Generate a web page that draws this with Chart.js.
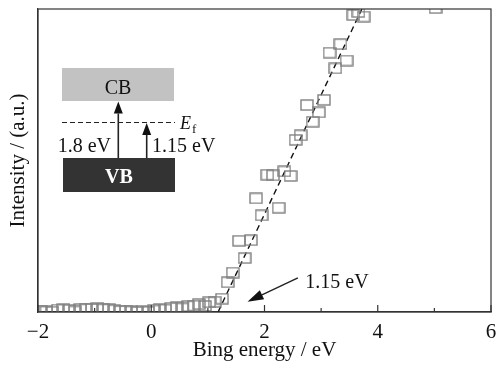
<!DOCTYPE html>
<html>
<head>
<meta charset="utf-8">
<script src="https://cdn.jsdelivr.net/npm/chart.js@4.4.0/dist/chart.umd.min.js"></script>
<style>
  html, body { margin: 0; padding: 0; background: #fff; }
  #wrap { width: 498px; height: 369px; position: relative; }
</style>
</head>
<body>
<div id="wrap"><canvas id="c"></canvas></div>
<script>
// ---- data ----
const energyX = [
  -1.95, -1.85, -1.75, -1.65, -1.55, -1.45, -1.35, -1.25, -1.15, -1.05,
  -0.95, -0.85, -0.75, -0.65, -0.55, -0.45, -0.35, -0.25, -0.15, -0.05,
  0.05, 0.15, 0.25, 0.35, 0.45, 0.55, 0.65, 0.76, 0.84, 0.95,
  1.02, 1.12, 1.25, 1.35, 1.44, 1.55, 1.65, 1.76, 1.85, 1.95,
  2.05, 2.15, 2.25, 2.35, 2.46, 2.55, 2.64, 2.75, 2.85, 2.96,
  3.05, 3.15, 3.25, 3.34, 3.45, 3.57, 3.66, 3.75, 5.02
];
const intensity = [
  0.3, 0.2, 0.1, 0.8, 1.0, 0.7, 0.2, 0.9, 1.1, 1.0,
  1.2, 0.9, 1.0, 0.6, 0.3, 0.4, 0.2, 0.0, 0.3, 0.1,
  0.5, 1.0, 0.8, 1.3, 1.6, 1.2, 1.9, 2.1, 2.6, 2.0,
  3.2, 3.4, 4.4, 9.8, 13.0, 23.5, 17.8, 23.7, 37.5, 31.9,
  45.3, 45.1, 34.4, 46.4, 44.9, 56.8, 58.3, 68.3, 62.8, 65.9,
  70.0, 85.6, 80.4, 88.4, 83.0, 98.0, 99.0, 97.5, 100.3
];
const fitX = [1.18, 3.72];
const fitY = [0, 100];
const xTickLabels = { '-2': '\u22122', '0': '0', '2': '2', '4': '4', '6': '6' };
const onsetLabel = '1.15 eV';

const FONT = '"Liberation Serif", "DejaVu Serif", serif';

// open rectangle marker
function boxMarker() {
  const cv = document.createElement('canvas');
  cv.width = 14; cv.height = 12;
  const g = cv.getContext('2d');
  g.strokeStyle = '#808080';
  g.lineWidth = 1.4;
  g.strokeRect(1, 1, 12, 10);
  return cv;
}

// frame + inward ticks
const frame = {
  id: 'frame',
  afterDraw(chart) {
    const { ctx, chartArea: a, scales } = chart;
    ctx.save();
    ctx.strokeStyle = '#333';
    ctx.lineWidth = 1.2;
    ctx.strokeRect(a.left, a.top, a.right - a.left, a.bottom - a.top);
    scales.x.ticks.forEach(t => {
      const px = scales.x.getPixelForValue(t.value);
      const len = t.value % 2 === 0 ? 7 : 4;
      ctx.beginPath();
      ctx.moveTo(px, a.bottom);
      ctx.lineTo(px, a.bottom - len);
      ctx.stroke();
    });
    ctx.restore();
  }
};

function arrow(ctx, x1, y1, x2, y2, headLen, headW) {
  const ang = Math.atan2(y2 - y1, x2 - x1);
  const bx = x2 - headLen * Math.cos(ang), by = y2 - headLen * Math.sin(ang);
  ctx.beginPath();
  ctx.moveTo(x1, y1);
  ctx.lineTo(bx, by);
  ctx.stroke();
  ctx.beginPath();
  ctx.moveTo(x2, y2);
  ctx.lineTo(bx + headW / 2 * Math.sin(ang), by - headW / 2 * Math.cos(ang));
  ctx.lineTo(bx - headW / 2 * Math.sin(ang), by + headW / 2 * Math.cos(ang));
  ctx.closePath();
  ctx.fill();
}

// band diagram inset and onset arrow
const inset = {
  id: 'inset',
  afterDraw(chart) {
    const { ctx, scales } = chart;
    ctx.save();
    // CB / VB boxes
    ctx.fillStyle = '#c2c2c2';
    ctx.fillRect(62, 68, 112, 33);
    ctx.fillStyle = '#333';
    ctx.fillRect(63, 158, 112, 34);
    ctx.textAlign = 'center';
    ctx.textBaseline = 'alphabetic';
    ctx.fillStyle = '#111';
    ctx.font = '20px ' + FONT;
    ctx.fillText('CB', 118, 94);
    ctx.fillStyle = '#fff';
    ctx.font = 'bold 20px ' + FONT;
    ctx.fillText('VB', 119, 183);
    // Ef dashed line
    ctx.strokeStyle = '#222';
    ctx.lineWidth = 1.2;
    ctx.setLineDash([5, 3]);
    ctx.beginPath();
    ctx.moveTo(62, 122.5);
    ctx.lineTo(175, 122.5);
    ctx.stroke();
    ctx.setLineDash([]);
    ctx.fillStyle = '#111';
    ctx.textAlign = 'left';
    ctx.font = 'italic 18px ' + FONT;
    ctx.fillText('E', 180, 129);
    ctx.font = '13px ' + FONT;
    ctx.fillText('f', 192, 133);
    // arrows
    ctx.strokeStyle = '#222';
    ctx.fillStyle = '#111';
    ctx.lineWidth = 1.6;
    arrow(ctx, 118.3, 158, 118.3, 101.5, 12, 9);
    arrow(ctx, 146.7, 158, 146.7, 123, 12, 9);
    ctx.font = '20px ' + FONT;
    ctx.textAlign = 'right';
    ctx.fillText('1.8 eV', 111, 152);
    ctx.textAlign = 'left';
    ctx.fillText('1.15 eV', 152, 152);
    // onset annotation
    const x = scales.x, y = scales.y;
    ctx.lineWidth = 1.4;
    arrow(ctx, x.getPixelForValue(2.59), y.getPixelForValue(11.3),
      x.getPixelForValue(1.70), y.getPixelForValue(3.4), 16, 10);
    ctx.fillText(onsetLabel, x.getPixelForValue(2.72), y.getPixelForValue(7.8));
    ctx.restore();
  }
};

new Chart(document.getElementById('c'), {
  type: 'scatter',
  data: {
    datasets: [
      {
        label: 'data',
        data: energyX.map((v, i) => ({ x: v, y: intensity[i] })),
        pointStyle: boxMarker(),
        pointRadius: 6,
        clip: 0
      },
      {
        type: 'line',
        label: 'fit',
        data: fitX.map((v, i) => ({ x: v, y: fitY[i] })),
        borderColor: '#111',
        borderWidth: 1.4,
        borderDash: [6, 4],
        pointRadius: 0,
        fill: false,
        clip: 0
      }
    ]
  },
  options: {
    responsive: true,
    maintainAspectRatio: false,
    animation: false,
    layout: { padding: { top: 9, right: 5, left: 0, bottom: 0 } },
    plugins: { legend: { display: false }, tooltip: { enabled: false } },
    scales: {
      x: {
        type: 'linear', min: -2, max: 6,
        afterFit(s) { s.height = 57; s.paddingLeft = 0; s.paddingRight = 0; },
        grid: { drawOnChartArea: false, drawTicks: false },
        border: { display: true, color: '#333', width: 1.2 },
        ticks: {
          stepSize: 1, padding: 8, color: '#111', maxRotation: 0, autoSkip: false,
          font: { family: FONT, size: 21 },
          callback: v => xTickLabels[String(v)] || ''
        },
        title: {
          display: true, text: 'Bing energy / eV', color: '#111',
          font: { family: FONT, size: 21 }, padding: { top: 0, bottom: 6 }
        }
      },
      y: {
        min: 0, max: 100,
        afterFit(s) { s.width = 38; },
        grid: { drawOnChartArea: false, drawTicks: false },
        border: { display: true, color: '#333', width: 1.2 },
        ticks: { display: false },
        title: {
          display: true, text: 'Intensity / (a.u.)', color: '#111',
          font: { family: FONT, size: 21 }, padding: { top: 6, bottom: 0 }
        }
      }
    }
  },
  plugins: [frame, inset]
});
</script>
</body>
</html>
